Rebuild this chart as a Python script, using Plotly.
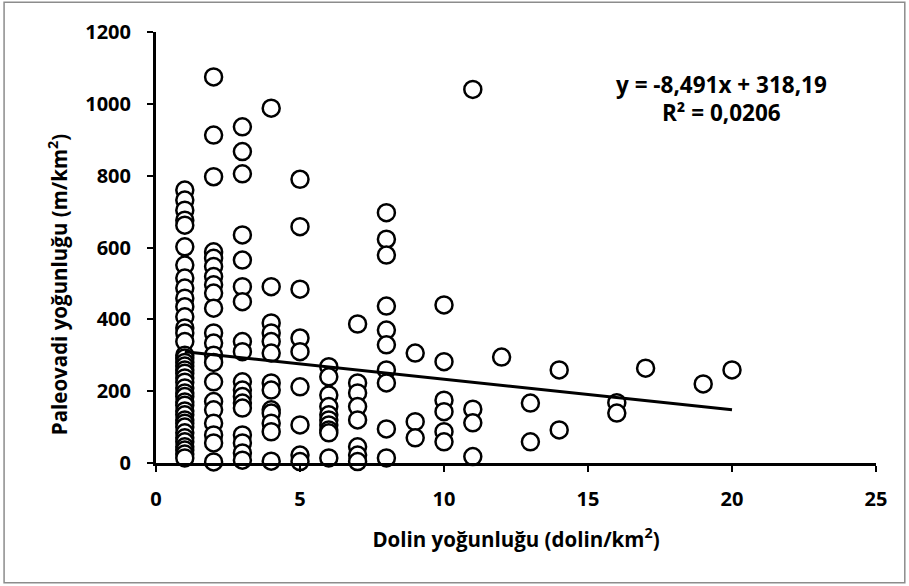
import plotly.graph_objects as go

# Data (dolin density vs paleovalley density)
y_x1 = [760, 732, 704, 676, 662, 602, 551, 515, 487, 459, 435, 407, 376, 362, 338,
        300, 292, 280, 270, 259, 250, 237, 225, 209, 195, 185, 170, 161, 145, 134,
        120, 111, 100, 84, 70, 59, 45, 36, 25, 14]
y_x2 = [1075, 913, 797, 588, 570, 547, 519, 496, 473, 431, 362, 334, 300, 280,
        226, 171, 148, 111, 78, 56, 3]
y_x3 = [936, 867, 805, 635, 565, 491, 449, 338, 310, 226, 203, 185, 167, 153, 78, 56, 28, 8]
y_x4 = [988, 491, 390, 362, 338, 306, 223, 203, 148, 139, 111, 87, 5]
y_x5 = [790, 658, 484, 348, 310, 212, 106, 22, 4]
y_x6 = [268, 240, 189, 157, 134, 120, 106, 92, 84, 14]
y_x7 = [387, 223, 195, 157, 120, 45, 22, 4]
y_x8 = [697, 623, 579, 437, 370, 329, 259, 223, 95, 14]
y_x9 = [306, 115, 70]
y_x10 = [440, 282, 175, 143, 87, 59]
y_x11 = [1040, 150, 112, 18]
y_x12 = [295]
y_x13 = [167, 59]
y_x14 = [259, 92]
y_x16 = [168, 139]
y_x17 = [264]
y_x19 = [220]
y_x20 = [259]

columns = [(1, y_x1), (2, y_x2), (3, y_x3), (4, y_x4), (5, y_x5), (6, y_x6),
           (7, y_x7), (8, y_x8), (9, y_x9), (10, y_x10), (11, y_x11), (12, y_x12),
           (13, y_x13), (14, y_x14), (16, y_x16), (17, y_x17), (19, y_x19), (20, y_x20)]

dolin = [x for x, ys in columns for _ in ys]
paleovadi = [y for _, ys in columns for y in ys]

slope = -8.491
intercept = 318.19
trend_x = [min(dolin), max(dolin)]
trend_y = [slope * x + intercept for x in trend_x]

x_ticks = [0, 5, 10, 15, 20, 25]
y_ticks = [0, 200, 400, 600, 800, 1000, 1200]

FONT = "'Open Sans', Lato, sans-serif"
TICK = dict(family=FONT, size=20, color="black", weight="bold")
TITLE = dict(family=FONT, size=20.5, color="black", weight="bold")
EQ = dict(family=FONT, size=22.5, color="black", weight="bold")

fig = go.Figure()
fig.add_trace(go.Scatter(
    x=dolin, y=paleovadi, mode="markers",
    marker=dict(symbol="circle", size=17, color="white",
                line=dict(color="black", width=2.5)),
    showlegend=False, cliponaxis=False))
fig.add_trace(go.Scatter(
    x=trend_x, y=trend_y, mode="lines",
    line=dict(color="black", width=3), showlegend=False))

fig.update_layout(
    width=909, height=586,
    margin=dict(l=156, r=33, t=32, b=123),
    paper_bgcolor="white", plot_bgcolor="white",
    font=dict(family=FONT, color="black", size=18),
    xaxis=dict(range=[0, 25], tickvals=x_ticks, showgrid=False, zeroline=False,
               showline=True, linecolor="black", linewidth=3,
               ticks="outside", ticklen=6, tickwidth=2, tickcolor="black",
               ticklabelstandoff=10,
               tickfont=TICK,
               title=dict(text="Dolin yoğunluğu (dolin/km<sup>2</sup>)",
                          font=TITLE, standoff=22)),
    yaxis=dict(range=[0, 1200], tickvals=y_ticks, showgrid=False, zeroline=False,
               showline=True, linecolor="black", linewidth=3,
               ticks="outside", ticklen=6, tickwidth=2, tickcolor="black",
               ticklabelstandoff=12,
               tickfont=TICK),
    annotations=[
        dict(x=-0.136, y=0.06, xref="paper", yref="paper", showarrow=False,
             text="Paleovadi yoğunluğu (m/km<sup>2</sup>)", font=TITLE,
             textangle=-90, xanchor="center", yanchor="bottom"),
        dict(x=0.785, y=0.878, xref="paper", yref="paper", showarrow=False,
             text="y = -8,491x + 318,19", font=EQ,
             xanchor="center", yanchor="middle"),
        dict(x=0.785, y=0.814, xref="paper", yref="paper", showarrow=False,
             text="R² = 0,0206", font=EQ,
             xanchor="center", yanchor="middle"),
    ],
    shapes=[dict(type="rect", xref="paper", yref="paper",
                 x0=-0.211, x1=1.040, y0=-0.278, y1=1.069,
                 line=dict(color="#8c8c8c", width=1.5), fillcolor="rgba(0,0,0,0)",
                 layer="below")],
)

fig.write_html("out.html", config={"displayModeBar": False},
               post_script="document.body.style.margin='0';document.body.style.padding='0';")
